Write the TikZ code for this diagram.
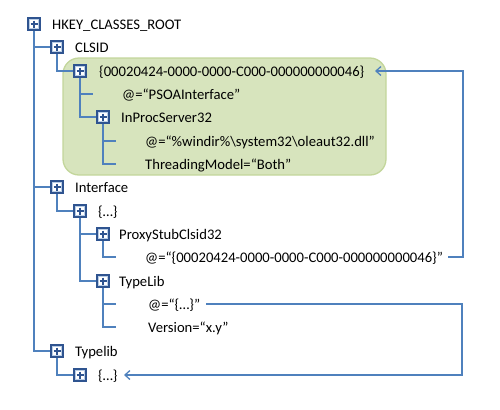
\documentclass[tikz,border=0pt]{standalone}
\usepackage{fontspec}
\setmainfont{Carlito}
\usetikzlibrary{arrows.meta,calc}
\definecolor{lnblue}{HTML}{4F81BD}
\definecolor{boxc}{HTML}{2F5490}
\definecolor{boxin}{HTML}{B9CDE5}
\definecolor{gfill}{HTML}{D7E4BD}
\definecolor{gline}{HTML}{C3D69B}
\begin{document}
\begin{tikzpicture}[x=1bp,y=-1bp,
  pbox/.style={draw=boxc, line width=1.6bp, fill=white, minimum size=12bp, inner sep=0pt, outer sep=0pt},
  plusline/.style={color=boxc, line width=1.2bp},
  lbl/.style={anchor=base west, inner sep=0pt, font=\fontsize{14.7}{17}\selectfont},
  treeln/.style={color=lnblue, line width=2bp},
  al/.style={color=lnblue, line width=1.3bp, -{Straight Barb[length=5bp,width=9bp,line width=1.3bp]}},
]
\useasboundingbox (0,0) rectangle (500,409);
% green group
\draw[fill=gfill, draw=gline, line width=1.3bp, rounded corners=16bp] (63,58) rectangle (386,175);

% labels
\node[lbl] (t0) at (52,29) {HKEY\_CLASSES\_ROOT};
\node[lbl] (t1) at (75,52) {CLSID};
\node[lbl] (t2) at (99,76) {\{00020424-0000-0000-C000-000000000046\}};
\node[lbl] (t3) at (122,99) {@=“PSOAInterface”};
\node[lbl] (t4) at (121,122) {InProcServer32};
\node[lbl] (t5) at (145,146) {@=“\%windir\%\textbackslash system32\textbackslash oleaut32.dll”};
\node[lbl] (t6) at (145,169) {ThreadingModel=“Both”};
\node[lbl] (t7) at (75,192) {Interface};
\node[lbl] (t8) at (98,216) {\{…\}};
\node[lbl] (t9) at (119,239) {ProxyStubClsid32};
\node[lbl] (t10) at (145,262) {@=“\{00020424-0000-0000-C000-000000000046\}”};
\node[lbl] (t11) at (119,286) {TypeLib};
\node[lbl] (t12) at (148,309) {@=“\{…\}”};
\node[lbl] (t13) at (148,332) {Version=“x.y”};
\node[lbl] (t14) at (75,356) {Typelib};
\node[lbl] (t15) at (98,380) {\{…\}};

% box positions
\coordinate (p0) at (34,24);
\coordinate (p1) at (57,47);
\coordinate (p2) at (80,71);
\coordinate (p4) at (103,117);
\coordinate (p7) at (57,187);
\coordinate (p8) at (80,211);
\coordinate (p9) at (103,234);
\coordinate (p11) at (103,281);
\coordinate (p14) at (57,351);
\coordinate (p15) at (80,375);

% leaf ends
\coordinate (l3) at (93,94);
\coordinate (l5) at (116,141);
\coordinate (l6) at (116,164);
\coordinate (l10) at (116,257);
\coordinate (l12) at (116,304);
\coordinate (l13) at (116,327);

% tree connectors
\draw[treeln] (p0) |- (p1);
\draw[treeln] (p0) |- (p7);
\draw[treeln] (p0) |- (p14);
\draw[treeln] (p1) |- (p2);
\draw[treeln] (p2) |- (l3);
\draw[treeln] (p2) |- (p4);
\draw[treeln] (p4) |- (l5);
\draw[treeln] (p4) |- (l6);
\draw[treeln] (p7) |- (p8);
\draw[treeln] (p8) |- (p9);
\draw[treeln] (p8) |- (p11);
\draw[treeln] (p9) |- (l10);
\draw[treeln] (p11) |- (l12);
\draw[treeln] (p11) |- (l13);
\draw[treeln] (p14) |- (p15);

% boxes drawn over the lines
\foreach \i in {0,1,2,4,7,8,9,11,14,15} {
  \node[pbox] (b\i) at (p\i) {};
  \draw[boxin, line width=0.8bp] ($(p\i)+(-4.6,-4.6)$) rectangle ($(p\i)+(4.6,4.6)$);
  \draw[plusline] ($(p\i)+(-3.5,0)$) -- ($(p\i)+(3.5,0)$);
  \draw[plusline] ($(p\i)+(0,-3.5)$) -- ($(p\i)+(0,3.5)$);
}

% reference arrows
\coordinate (a1s) at (448,257);
\coordinate (a1c) at (463,257);
\coordinate (a1t) at (375,71);
\draw[al] (a1s) -- (a1c) |- (a1t);
\coordinate (a2s) at (206,304);
\coordinate (a2c) at (462,304);
\coordinate (a2t) at (124,375);
\draw[al] (a2s) -- (a2c) |- (a2t);
\end{tikzpicture}
\end{document}
